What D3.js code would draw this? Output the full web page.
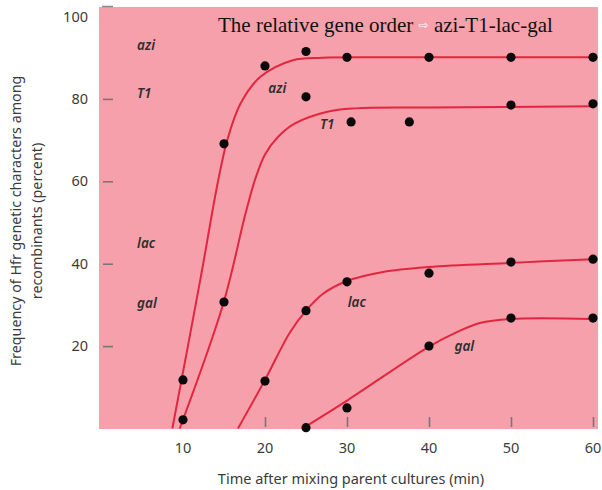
<!DOCTYPE html>
<html>
<head>
<meta charset="utf-8">
<script src="https://cdn.jsdelivr.net/npm/d3@7/dist/d3.min.js"></script>
<style>
  html, body { margin: 0; padding: 0; background: #fff; }
  svg { display: block; }
</style>
</head>
<body>
<svg id="chart" width="602" height="490"></svg>
<script>
// ---------- DATA ----------
const genes = ["azi", "T1", "lac", "gal"];

// measured data points (time in min, percent)
const aziPoints = [[10, 11.8], [15, 69.1], [20, 88.0], [25, 91.5], [30, 90.1], [40, 90.1], [50, 90.1], [60, 90.1]];
const t1Points  = [[10, 2.1], [15, 30.7], [25, 80.5], [30.5, 74.4], [37.6, 74.4], [50, 78.5], [60, 78.8]];
const lacPoints = [[20, 11.5], [25, 28.6], [30, 35.6], [40, 37.7], [50, 40.4], [60, 41.1]];
const galPoints = [[25, 0.2], [30, 5.0], [40, 20.0], [50, 26.8], [60, 26.8]];

// fitted curves (time, percent)
const aziCurve = [[8.7, 0], [12.1, 36.0], [14.3, 60.3], [15.4, 70.0], [17, 78.8], [19.4, 85.3], [23.4, 89.4], [27, 90.0], [35, 90.1], [60, 90.1]];
const t1Curve  = [[9.6, 0], [14.9, 30.2], [17.6, 52.0], [18.8, 60.5], [20.0, 66.5], [21.6, 70.8], [23.6, 74.0], [27.6, 76.9], [31, 77.7], [40, 77.9], [60, 78.2]];
const lacCurve = [[16.7, 0], [20, 11.8], [23, 23.2], [25, 28.6], [27, 32.6], [30, 35.8], [34.4, 38.0], [40, 39.2], [50, 40.2], [60, 41.1]];
const galCurve = [[24.9, 0.4], [30.1, 6.9], [40.1, 20.0], [43.4, 23.4], [46.2, 25.6], [49.9, 26.6], [60, 26.6]];

const xTicks = [10, 20, 30, 40, 50, 60];
const xTickMarks = [20, 30, 40, 50, 60];
const yTicks = [20, 40, 60, 80, 100];
const yTickMarks = [20, 40, 60, 80];

// annotation anchors in data units
const leftLabels  = [["azi", 4.4, 93.1], ["T1", 4.4, 81.4], ["lac", 4.4, 45.0], ["gal", 4.4, 30.5]];
const curveLabels = [["azi", 21.5, 82.6], ["T1", 27.6, 73.9], ["lac", 31.2, 30.7], ["gal", 44.3, 20.0]];

const titleMain = "The relative gene order ";
const titleArrow = "\u21E8";
const titleOrder = " azi-T1-lac-gal";
const xTitle = "Time after mixing parent cultures (min)";
const yTitle1 = "Frequency of Hfr genetic characters among";
const yTitle2 = "recombinants (percent)";

// ---------- LAYOUT ----------
const svg = d3.select("#chart");
const x = d3.scaleLinear().domain([0, 60]).range([101, 593]);
const y = d3.scaleLinear().domain([0, 100]).range([428.5, 16.5]);

const plot = { left: 99, top: 7, right: 598, bottom: 429 };
const pink = "#f5a0ab";
const red = "#e3263f";
const textCol = "#3b3b3b";
const sans = "'Noto Sans', 'Open Sans', sans-serif";

svg.append("rect").attr("width", 602).attr("height", 490).attr("fill", "#fff");

svg.append("defs").append("clipPath").attr("id", "clip")
  .append("rect")
  .attr("x", plot.left).attr("y", plot.top)
  .attr("width", plot.right - plot.left).attr("height", plot.bottom - plot.top);

svg.append("rect")
  .attr("x", plot.left).attr("y", plot.top)
  .attr("width", plot.right - plot.left).attr("height", plot.bottom - plot.top)
  .attr("fill", pink);

// top-left frame dash
svg.append("line")
  .attr("x1", plot.left + 3).attr("x2", plot.left + 14)
  .attr("y1", plot.top - 0.5).attr("y2", plot.top - 0.5)
  .attr("stroke", "#8a8a8a").attr("stroke-width", 1.5);

// Y axis ticks (inside) and labels
const yAxis = d3.axisRight(y).tickValues(yTickMarks).tickSize(10).tickFormat("");
const gy = svg.append("g").attr("transform", `translate(${plot.left + 4},0)`).call(yAxis);
gy.select(".domain").remove();
gy.selectAll(".tick line").attr("stroke", "#777").attr("stroke-width", 1.6);

svg.append("g").selectAll("text").data(yTicks).join("text")
  .attr("x", 88).attr("y", d => y(d)).attr("dy", "0.35em")
  .attr("text-anchor", "end")
  .attr("font-family", sans).attr("font-size", 14.5).attr("fill", textCol)
  .text(d => d);

// X axis ticks (inside) and labels
const xAxis = d3.axisTop(x).tickValues(xTickMarks).tickSize(10).tickFormat("");
const gx = svg.append("g").attr("transform", `translate(0,${plot.bottom - 2})`).call(xAxis);
gx.select(".domain").remove();
gx.selectAll(".tick line").attr("stroke", "#777").attr("stroke-width", 1.6);

svg.append("g").selectAll("text").data(xTicks).join("text")
  .attr("x", d => x(d)).attr("y", 448).attr("dy", "0.35em")
  .attr("text-anchor", "middle")
  .attr("font-family", sans).attr("font-size", 14.5).attr("fill", textCol)
  .text(d => d);

// Axis titles
svg.append("text")
  .attr("x", 351).attr("y", 479).attr("dy", "0.35em")
  .attr("text-anchor", "middle")
  .attr("font-family", sans).attr("font-size", 14.5).attr("fill", textCol)
  .text(xTitle);

const yt = svg.append("text")
  .attr("transform", "translate(16,221) rotate(-90)")
  .attr("text-anchor", "middle")
  .attr("font-family", sans).attr("font-size", 14.3).attr("fill", textCol);
yt.append("tspan").attr("x", 0).attr("y", 0).attr("dy", "0.35em").text(yTitle1);
yt.append("tspan").attr("x", 0).attr("y", 21).attr("dy", "0.35em").text(yTitle2);

// Curves
const line = d3.line().x(d => x(d[0])).y(d => y(d[1])).curve(d3.curveCatmullRom.alpha(0.5));
const curves = [aziCurve, t1Curve, lacCurve, galCurve];
svg.append("g").attr("clip-path", "url(#clip)")
  .selectAll("path").data(curves).join("path")
  .attr("d", line)
  .attr("fill", "none").attr("stroke", red).attr("stroke-width", 2);

// Dots
const allPoints = [aziPoints, t1Points, lacPoints, galPoints];
svg.append("g").selectAll("g").data(allPoints).join("g")
  .selectAll("circle").data(d => d).join("circle")
  .attr("cx", d => x(d[0])).attr("cy", d => y(d[1])).attr("r", 4.6)
  .attr("fill", "#0a0a0a");

// Gene labels
const labelStyle = sel => sel
  .attr("font-family", sans).attr("font-style", "italic").attr("font-weight", 600)
  .attr("font-size", 13.5).attr("fill", "#2e2e2e").attr("dy", "0.35em");

svg.append("g").selectAll("text").data(leftLabels).join("text")
  .attr("x", d => x(d[1])).attr("y", d => y(d[2]))
  .call(labelStyle).text(d => d[0]);

svg.append("g").selectAll("text").data(curveLabels).join("text")
  .attr("x", d => x(d[1])).attr("y", d => y(d[2])).attr("text-anchor", "middle")
  .call(labelStyle).text(d => d[0]);

// Title
const title = svg.append("text")
  .attr("x", 218).attr("y", 32)
  .attr("font-family", "'Liberation Serif', 'Times New Roman', serif")
  .attr("font-size", 21).attr("fill", "#111");
title.append("tspan").text(titleMain);
title.append("tspan").attr("font-size", 12).attr("fill", "#fff").attr("dy", -3)
  .attr("font-family", "'DejaVu Sans', sans-serif").text(titleArrow);
title.append("tspan").attr("dy", 3).text(titleOrder);
</script>
</body>
</html>
